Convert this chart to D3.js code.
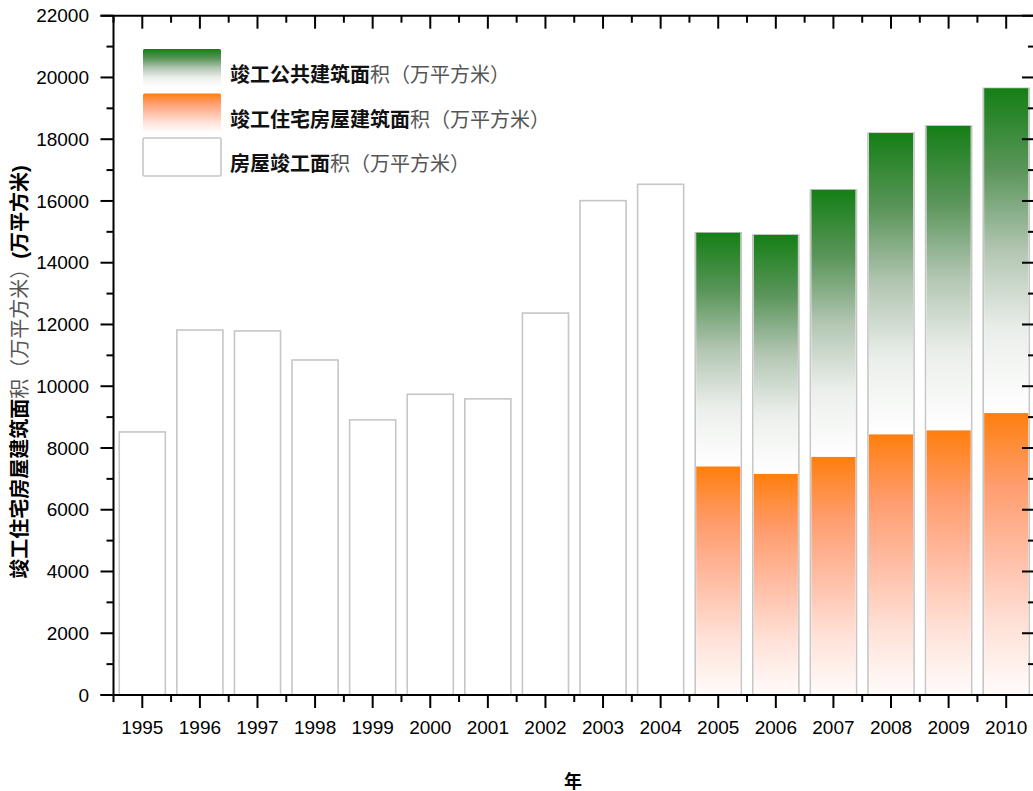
<!DOCTYPE html>
<html>
<head>
<meta charset="utf-8">
<script src="https://cdn.jsdelivr.net/npm/d3@7"></script>
<style>
  body { margin: 0; background: #fff; }
  text { font-family: "Liberation Sans", Arial, "Noto Sans CJK SC", sans-serif; }
</style>
</head>
<body>
<svg id="chart" width="1033" height="791"></svg>
<script>
// data
var years = ["1995","1996","1997","1998","1999","2000","2001","2002","2003","2004","2005","2006","2007","2008","2009","2010"];
var totalArea = [8520, 11820, 11790, 10850, 8910, 9740, 9590, 12370, 16010, 16540, 14970, 14900, 16360, 18200, 18430, 19650];
var splitYears = ["2005","2006","2007","2008","2009","2010"];
var residential = [7400, 7160, 7710, 8440, 8570, 9130];
var publicBld = [7570, 7740, 8650, 9760, 9860, 10520];
var yTicks = [0, 2000, 4000, 6000, 8000, 10000, 12000, 14000, 16000, 18000, 20000, 22000];

var svg = d3.select("#chart");

var x = d3.scaleBand().domain(years).range([113.5, 1035]).paddingInner(0.2).paddingOuter(0.1);
var y = d3.scaleLinear().domain([0, 22000]).range([695, 15.7]);
var step = x.step();

// gradients
var defs = svg.append("defs");
var green = defs.append("linearGradient").attr("id", "green-grad")
    .attr("x1", 0).attr("y1", 0).attr("x2", 0).attr("y2", 1);
[["0%", "#157f15"], ["25%", "#5a955a"], ["50%", "#b3c6b3"], ["75%", "#ebefeb"], ["100%", "#ffffff"]]
  .forEach(function (s) { green.append("stop").attr("offset", s[0]).attr("stop-color", s[1]); });
var orange = defs.append("linearGradient").attr("id", "orange-grad")
    .attr("x1", 0).attr("y1", 0).attr("x2", 0).attr("y2", 1);
[["0%", "#ff7f0e"], ["25%", "#ff9c6c"], ["50%", "#ffbda4"], ["75%", "#ffe1d7"], ["100%", "#fffcfb"]]
  .forEach(function (s) { orange.append("stop").attr("offset", s[0]).attr("stop-color", s[1]); });

// total bars (outline)
svg.append("g").selectAll("rect")
  .data(years).enter().append("rect")
    .attr("x", function (d) { return x(d); })
    .attr("y", function (d, i) { return y(totalArea[i]); })
    .attr("width", x.bandwidth())
    .attr("height", function (d, i) { return y(0) - y(totalArea[i]); })
    .attr("fill", "#fff")
    .attr("stroke", "#c6c6c6")
    .attr("stroke-width", 1.6);

// residential (orange) and public (green, stacked on top)
var inset = 1;
svg.append("g").selectAll("rect")
  .data(splitYears).enter().append("rect")
    .attr("x", function (d) { return x(d) + inset; })
    .attr("y", function (d, i) { return y(residential[i] + publicBld[i]); })
    .attr("width", x.bandwidth() - 2 * inset)
    .attr("height", function (d, i) { return y(residential[i]) - y(residential[i] + publicBld[i]); })
    .attr("fill", "url(#green-grad)");
svg.append("g").selectAll("rect")
  .data(splitYears).enter().append("rect")
    .attr("x", function (d) { return x(d) + inset; })
    .attr("y", function (d, i) { return y(residential[i]); })
    .attr("width", x.bandwidth() - 2 * inset)
    .attr("height", function (d, i) { return y(0) - y(residential[i]); })
    .attr("fill", "url(#orange-grad)");

// axes
var minorY = d3.range(1000, 22000, 2000);
var majorX = years.map(function (d) { return x(d) + x.bandwidth() / 2; });
var minorX = years.map(function (d) { return x(d) + x.bandwidth() / 2 - step / 2; });
minorX.push(minorX[minorX.length - 1] + step);
var x0 = 113.5, x1 = 1034;
var ax = svg.append("g").attr("stroke", "#000").attr("stroke-width", 2);

ax.append("line").attr("x1", x0).attr("x2", x0).attr("y1", y(22000)).attr("y2", y(0) + 1);
ax.append("line").attr("x1", x1).attr("x2", x1).attr("y1", y(22000)).attr("y2", y(0));
ax.append("line").attr("x1", x0 - 13).attr("x2", x1).attr("y1", y(0)).attr("y2", y(0));
ax.append("line").attr("x1", x0 - 13).attr("x2", x1).attr("y1", y(22000)).attr("y2", y(22000));

// y ticks left (out) and right (in)
yTicks.forEach(function (v) {
  ax.append("line").attr("x1", x0 - 13).attr("x2", x0).attr("y1", y(v)).attr("y2", y(v));
  ax.append("line").attr("x1", x1 - 12).attr("x2", x1).attr("y1", y(v)).attr("y2", y(v));
});
minorY.forEach(function (v) {
  ax.append("line").attr("x1", x0 - 7).attr("x2", x0).attr("y1", y(v)).attr("y2", y(v));
  ax.append("line").attr("x1", x1 - 6).attr("x2", x1).attr("y1", y(v)).attr("y2", y(v));
});
// x ticks bottom (out) and top (in)
majorX.forEach(function (px) {
  ax.append("line").attr("x1", px).attr("x2", px).attr("y1", y(0)).attr("y2", y(0) + 13);
  ax.append("line").attr("x1", px).attr("x2", px).attr("y1", y(22000)).attr("y2", y(22000) + 13);
});
minorX.forEach(function (px) {
  ax.append("line").attr("x1", px).attr("x2", px).attr("y1", y(0)).attr("y2", y(0) + 7);
  ax.append("line").attr("x1", px).attr("x2", px).attr("y1", y(22000)).attr("y2", y(22000) + 7);
});

// tick labels
svg.append("g").selectAll("text").data(yTicks).enter().append("text")
    .attr("x", 89).attr("y", function (d) { return y(d); })
    .attr("dy", "0.35em").attr("text-anchor", "end")
    .attr("font-size", 19).attr("fill", "#000")
    .text(function (d) { return d; });
svg.append("g").selectAll("text").data(years).enter().append("text")
    .attr("x", function (d) { return x(d) + x.bandwidth() / 2; })
    .attr("y", 734).attr("text-anchor", "middle")
    .attr("font-size", 19).attr("fill", "#000")
    .text(function (d) { return d; });

// axis titles
svg.append("text").attr("x", 573).attr("y", 788).attr("text-anchor", "middle")
    .attr("font-size", 18).attr("font-weight", "bold").text("年");
var yt = svg.append("text")
    .attr("transform", "translate(27,372) rotate(-90)")
    .attr("text-anchor", "middle").attr("font-size", 20);
yt.append("tspan").attr("font-weight", "bold").text("竣工住宅房屋建筑面");
yt.append("tspan").attr("fill", "#555").text("积（万平方米）");
yt.append("tspan").attr("font-weight", "bold").text("(万平方米)");

// legend
var legendItems = [
  { fill: "url(#green-grad)", stroke: "none", bold: "竣工公共建筑面", rest: "积（万平方米）" },
  { fill: "url(#orange-grad)", stroke: "none", bold: "竣工住宅房屋建筑面", rest: "积（万平方米）" },
  { fill: "#fff", stroke: "#c6c6c6", bold: "房屋竣工面", rest: "积（万平方米）" }
];
var lg = svg.append("g").selectAll("g").data(legendItems).enter().append("g")
    .attr("transform", function (d, i) { return "translate(143," + (49 + i * 44.5) + ")"; });
lg.append("rect").attr("width", 78).attr("height", 38).attr("rx", 1.5)
    .attr("fill", function (d) { return d.fill; })
    .attr("stroke", function (d) { return d.stroke; })
    .attr("stroke-width", 1.6);
var lt = lg.append("text").attr("x", 87).attr("y", 33).attr("font-size", 20);
lt.append("tspan").attr("font-weight", "bold").attr("fill", "#111").text(function (d) { return d.bold; });
lt.append("tspan").attr("fill", "#555").text(function (d) { return d.rest; });
</script>
</body>
</html>
